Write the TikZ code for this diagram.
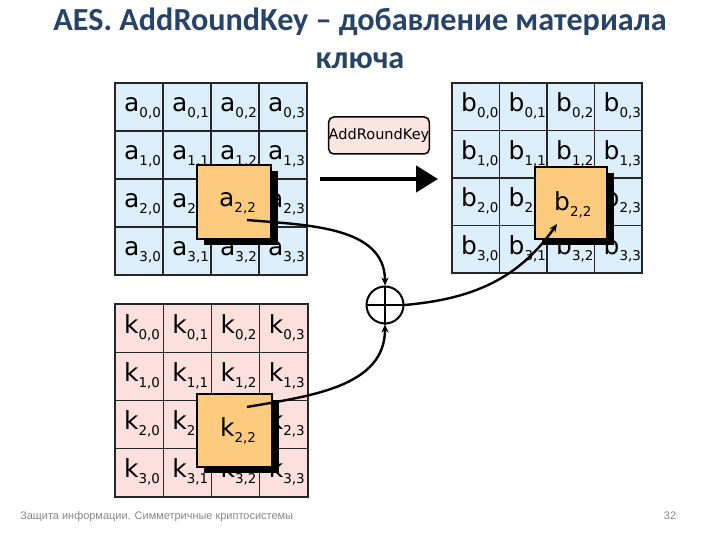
\documentclass[tikz,border=0pt]{standalone}
\usepackage{fontspec}
\setmainfont{Carlito}
\newfontfamily\dvfont{DejaVu Sans}
\newfontfamily\footfont{Liberation Sans}
\usetikzlibrary{arrows.meta,calc}
\definecolor{cellblue}{RGB}{221,239,250}
\definecolor{cellpink}{RGB}{252,224,222}
\definecolor{hlorange}{RGB}{252,203,125}
\definecolor{titleblue}{RGB}{38,68,106}
\definecolor{arkpink}{RGB}{252,230,226}
\definecolor{footgray}{RGB}{135,135,135}
\newcommand\celltext[3]{{\fontsize{25}{25}\selectfont #1}\raisebox{-6bp}{\fontsize{13.5}{13.5}\selectfont #2,#3}}
\tikzset{
  cellbox/.style={draw=black!85, line width=1.3bp, inner sep=0pt, outer sep=0pt},
  celltxt/.style={font=\dvfont, inner sep=0pt, anchor=base west},
  hlbox/.style={draw=black, line width=2.4bp, fill=hlorange, inner sep=0pt, outer sep=0pt},
  shbox/.style={fill=black, inner sep=0pt, outer sep=0pt},
  conn/.style={line width=2.4bp, -{Stealth[length=8bp,width=7bp]}},
  xorc/.style={circle, draw=black, line width=2bp, minimum size=37bp, inner sep=0pt},
  arkbox/.style={draw=black, line width=1.5bp, fill=arkpink, rounded corners=5bp,
     minimum width=96bp, minimum height=37bp, inner sep=0pt, font=\dvfont\fontsize{14.6}{15}\selectfont},
  titletxt/.style={font=\bfseries\fontsize{32.3}{33}\selectfont, text=titleblue, anchor=base, inner sep=0pt},
  foottxt/.style={font=\footfont\fontsize{11}{12}\selectfont, text=footgray, inner sep=0pt, anchor=base west}
}
\newcommand\mkgrid[6]{%
 \foreach \r in {0,...,3}{%
  \foreach \c in {0,...,3}{%
   \node[cellbox, fill=#6, minimum size=#5bp, anchor=north west] (#1\r\c) at ({#3+#5*\c},{-#4-#5*\r}) {};
   \ifnum\r\c=22 \else
   \node[celltxt] (#1\r\c t) at ($(#1\r\c.north west)+(9,-29)$) {\celltext{#2}{\r}{\c}};
   \fi
  }}}
\begin{document}
\begin{tikzpicture}[x=1bp,y=1bp]
\useasboundingbox[fill=white] (0,0) rectangle (720,-540);
% title
\node[titletxt] (title1) at (360,-31) {AES. AddRoundKey – добавление материала};
\node[titletxt] (title2) at (360,-69) {ключа};
% grids
\mkgrid{a}{a}{115}{83}{48}{cellblue}
\mkgrid{b}{b}{452}{83}{47.5}{cellblue}
\mkgrid{k}{k}{115}{304}{48.25}{cellpink}
% highlighted cells
\node[shbox, minimum width=74bp, minimum height=74bp] (ashadow) at (241,-208) {};
\node[hlbox, minimum width=74bp, minimum height=74bp] (abox) at (234,-202) {};
\node[celltxt] (aboxt) at ($(abox.north west)+(22,-42)$) {\celltext{a}{2}{2}};
\node[shbox, minimum width=72bp, minimum height=72bp] (bshadow) at (578,-209) {};
\node[hlbox, minimum width=72bp, minimum height=72bp] (bbox) at (571,-203) {};
\node[celltxt] (bboxt) at ($(bbox.north west)+(19,-44)$) {\celltext{b}{2}{2}};
\node[shbox, minimum width=75bp, minimum height=73bp] (kshadow) at (241.5,-436.5) {};
\node[hlbox, minimum width=75bp, minimum height=73bp] (kbox) at (234.5,-430.5) {};
\node[celltxt] (kboxt) at ($(kbox.north west)+(23,-42)$) {\celltext{k}{2}{2}};
% AddRoundKey label and big arrow
\node[arkbox] (ark) at (379,-135.5) {AddRoundKey};
\coordinate (bigs) at (320,-179);
\coordinate (bige) at (438,-179);
\draw[line width=4.5bp, -{Triangle[length=22bp,width=26bp]}] (bigs) -- (bige);
% xor
\node[xorc] (xor) at (385,-305) {};
\draw[line width=2.6bp] (xor.north) -- (xor.south);
\draw[line width=2.6bp] (xor.west) -- (xor.east);
% connectors
\coordinate (as) at (247,-220);
\coordinate (ks) at (247,-407);
\coordinate (be) at (557,-224);
\draw[conn] (as) to[out=-5,in=90] (xor.north);
\draw[conn] (ks) to[out=10,in=-90] (xor.south);
\draw[conn] (xor.east) to[out=5,in=-125] (be);
% footer
\node[foottxt] (foot) at (20,-519) {Защита информации. Симметричные криптосистемы};
\node[foottxt, anchor=base] (page) at (670,-519) {32};
\end{tikzpicture}
\end{document}
